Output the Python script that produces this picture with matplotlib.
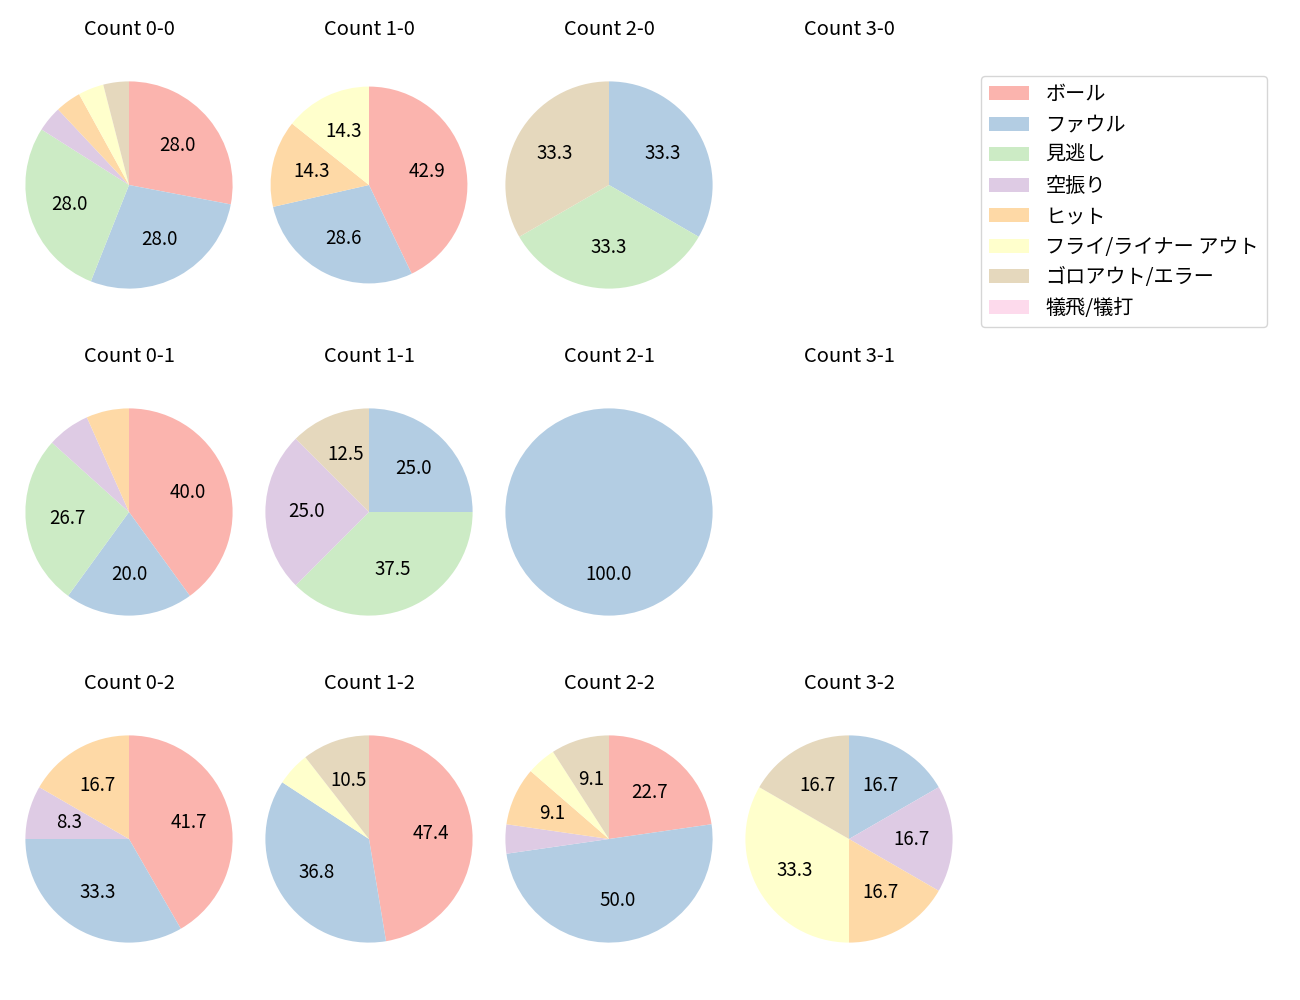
import matplotlib
matplotlib.use('Agg')
import matplotlib.pyplot as plt

plt.rcParams['font.family'] = ['Noto Sans CJK JP', 'DejaVu Sans']

labels = ['ボール', 'ファウル', '見逃し', '空振り', 'ヒット',
          'フライ/ライナー アウト', 'ゴロアウト/エラー', '犠飛/犠打']

# counts per result, in the order of labels
count_0_0 = [7, 7, 7, 1, 1, 1, 1, 0]
count_1_0 = [3, 2, 0, 0, 1, 1, 0, 0]
count_2_0 = [0, 1, 1, 0, 0, 0, 1, 0]
count_3_0 = [0, 0, 0, 0, 0, 0, 0, 0]
count_0_1 = [6, 3, 4, 1, 1, 0, 0, 0]
count_1_1 = [0, 2, 3, 2, 0, 0, 1, 0]
count_2_1 = [0, 1, 0, 0, 0, 0, 0, 0]
count_3_1 = [0, 0, 0, 0, 0, 0, 0, 0]
count_0_2 = [5, 4, 0, 1, 2, 0, 0, 0]
count_1_2 = [9, 7, 0, 0, 0, 1, 2, 0]
count_2_2 = [5, 11, 0, 1, 2, 1, 2, 0]
count_3_2 = [0, 1, 0, 1, 1, 2, 1, 0]

counts = {
    (0, 0): count_0_0, (1, 0): count_1_0, (2, 0): count_2_0, (3, 0): count_3_0,
    (0, 1): count_0_1, (1, 1): count_1_1, (2, 1): count_2_1, (3, 1): count_3_1,
    (0, 2): count_0_2, (1, 2): count_1_2, (2, 2): count_2_2, (3, 2): count_3_2,
}

colors = plt.get_cmap('Pastel1').colors[:8]

W, H = 1300, 1000
fig = plt.figure(figsize=(13, 10), dpi=100)

size = 259
wedges_for_legend = None
for (b, s), vals in counts.items():
    cx = 129 + 240 * b
    cy = 185 + 327 * s
    ax = fig.add_axes([(cx - size / 2) / W, 1 - (cy + size / 2) / H, size / W, size / H])
    ax.set_title(f'Count {b}-{s}', fontsize=14.5, pad=14.5)
    if sum(vals) == 0:
        ax.axis('off')
        continue
    # the 1-0 pie comes out a bit smaller in the original
    r = 0.95 if (b, s) == (1, 0) else 1.0
    wedges, _, _ = ax.pie(vals, colors=colors, startangle=90, counterclock=False,
                          radius=r,
                          autopct=lambda p: f'{p:.1f}' if p > 7 else '',
                          textprops={'fontsize': 13.5})
    if wedges_for_legend is None and all(v > 0 for v in vals[:7]):
        wedges_for_legend = wedges

fig.legend(wedges_for_legend, labels, fontsize=14.5, loc='upper left',
           bbox_to_anchor=(981 / W, 1 - 76 / H), borderaxespad=0,
           labelspacing=0.475)

fig.savefig('out.png', dpi=100)
